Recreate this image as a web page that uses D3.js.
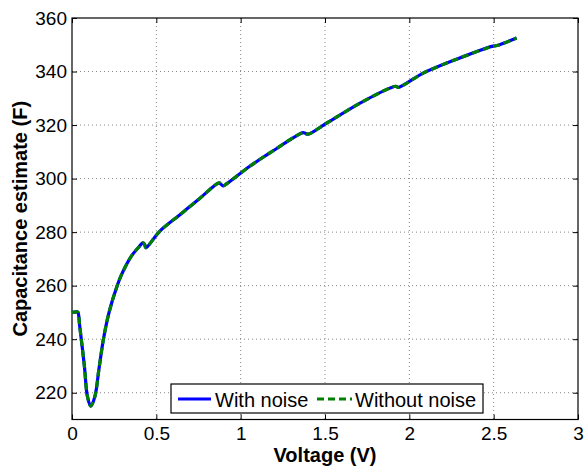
<!DOCTYPE html>
<html>
<head>
<meta charset="utf-8">
<script src="https://cdn.jsdelivr.net/npm/d3@7"></script>
<style>
  html, body { margin: 0; padding: 0; background: #fff; }
  svg { display: block; font-family: "Liberation Sans", Arial, Helvetica, sans-serif; }
</style>
</head>
<body>
<div id="chart"></div>
<script>
// ---- data ----
const voltage = [0, 0.03, 0.0356, 0.0457, 0.0735, 0.0913, 0.111, 0.136, 0.16, 0.185, 0.21, 0.235, 0.26, 0.293, 0.352, 0.39, 0.421, 0.43, 0.437, 0.45, 0.52, 0.64, 0.757, 0.872, 0.882, 0.896, 0.92, 1.054, 1.173, 1.37, 1.38, 1.40, 1.509, 1.708, 1.884, 1.92, 1.935, 2.082, 2.28, 2.49, 2.50, 2.52, 2.636];
const withNoise = [250, 250.2, 250, 244.9, 229.9, 218.7, 215, 218.7, 229, 239.5, 247.5, 253.5, 258.5, 264, 271, 274, 276, 275.5, 274.2, 274.8, 280.3, 286.5, 292.6, 298.4, 298, 297.3, 298.2, 304.6, 309.6, 317.2, 317, 316.6, 320.7, 328.2, 333.8, 334.5, 334.1, 339.4, 344.6, 349.4, 349.5, 349.7, 352.5];
const withoutNoise = withNoise.slice();
const xTicks = [0, 0.5, 1, 1.5, 2, 2.5, 3];
const xTickLabels = ["0", "0.5", "1", "1.5", "2", "2.5", "3"];
const yTicks = [220, 240, 260, 280, 300, 320, 340, 360];
const seriesNames = ["With noise", "Without noise"];
const seriesColors = ["#0000ff", "#008000"];

// ---- layout ----
const W = 586, H = 468;
const m = { left: 72, right: 8, top: 18, bottom: 48.5 };
const iw = W - m.left - m.right, ih = H - m.top - m.bottom;
const FONT = "Liberation Sans, Arial, Helvetica, sans-serif";

const svg = d3.select("#chart").append("svg").attr("width", W).attr("height", H);
const g = svg.append("g").attr("transform", `translate(${m.left},${m.top})`);

const x = d3.scaleLinear().domain([0, 3]).range([0, iw]);
const y = d3.scaleLinear().domain([210, 360]).range([ih, 0]);

// grid
g.append("g").selectAll("line").data(xTicks.filter(d => d > 0 && d < 3)).join("line")
  .attr("x1", d => x(d)).attr("x2", d => x(d)).attr("y1", 0).attr("y2", ih)
  .attr("stroke", "#888").attr("stroke-width", 1).attr("stroke-dasharray", "1,3");
g.append("g").selectAll("line").data(yTicks.filter(d => d < 360)).join("line")
  .attr("x1", 0).attr("x2", iw).attr("y1", d => y(d)).attr("y2", d => y(d))
  .attr("stroke", "#888").attr("stroke-width", 1).attr("stroke-dasharray", "1,3");

// axes (ticks inward)
const xAxis = d3.axisBottom(x).tickValues(xTicks).tickFormat((d, i) => xTickLabels[i]).tickSizeInner(-5).tickSizeOuter(0).tickPadding(7);
const yAxis = d3.axisLeft(y).tickValues(yTicks).tickSizeInner(-5).tickSizeOuter(0).tickPadding(5);
const gx = g.append("g").attr("transform", `translate(0,${ih})`).call(xAxis);
const gy = g.append("g").call(yAxis);
const gxTop = g.append("g").call(d3.axisTop(x).tickValues(xTicks).tickSizeInner(-5).tickSizeOuter(0).tickFormat(""));
const gyRight = g.append("g").attr("transform", `translate(${iw},0)`).call(d3.axisRight(y).tickValues(yTicks).tickSizeInner(-5).tickSizeOuter(0).tickFormat(""));
[gx, gy, gxTop, gyRight].forEach(a => {
  a.select(".domain").remove();
  a.selectAll(".tick line").attr("stroke", "#000");
  a.selectAll("text").attr("font-size", 19).attr("fill", "#000").attr("font-family", FONT);
});

// box
g.append("rect").attr("x", 0).attr("y", 0).attr("width", iw).attr("height", ih)
  .attr("fill", "none").attr("stroke", "#000").attr("stroke-width", 1.2);

// lines
const lineGen = vals => d3.line().x((d, i) => x(voltage[i])).y(d => y(d)).curve(d3.curveCatmullRom.alpha(0.5))(vals);
g.append("path").attr("d", lineGen(withNoise)).attr("fill", "none")
  .attr("stroke", seriesColors[0]).attr("stroke-width", 3.2).attr("stroke-linejoin", "round");
g.append("path").attr("d", lineGen(withoutNoise)).attr("fill", "none")
  .attr("stroke", seriesColors[1]).attr("stroke-width", 3.2).attr("stroke-dasharray", "7,4");

// legend
const lg = svg.append("g").attr("transform", "translate(171,384)").attr("font-family", FONT);
lg.append("rect").attr("x", 0).attr("y", 0).attr("width", 312).attr("height", 29)
  .attr("fill", "#fff").attr("stroke", "#000").attr("stroke-width", 1.2);
lg.append("line").attr("x1", 7).attr("x2", 40).attr("y1", 15).attr("y2", 15)
  .attr("stroke", seriesColors[0]).attr("stroke-width", 3);
lg.append("text").attr("x", 44).attr("y", 22.5).attr("font-size", 20).text(seriesNames[0]);
lg.append("line").attr("x1", 146).attr("x2", 181).attr("y1", 15).attr("y2", 15)
  .attr("stroke", seriesColors[1]).attr("stroke-width", 3).attr("stroke-dasharray", "7,4");
lg.append("text").attr("x", 184).attr("y", 22.5).attr("font-size", 20).text(seriesNames[1]);

// axis titles
svg.append("text").attr("x", m.left + iw / 2).attr("y", 462).attr("text-anchor", "middle")
  .attr("font-family", FONT).attr("font-size", 20).attr("font-weight", "bold").text("Voltage (V)");
svg.append("text").attr("transform", `translate(27,${m.top + ih / 2}) rotate(-90)`).attr("text-anchor", "middle")
  .attr("font-family", FONT).attr("font-size", 20).attr("font-weight", "bold").text("Capacitance estimate (F)");
</script>
</body>
</html>
